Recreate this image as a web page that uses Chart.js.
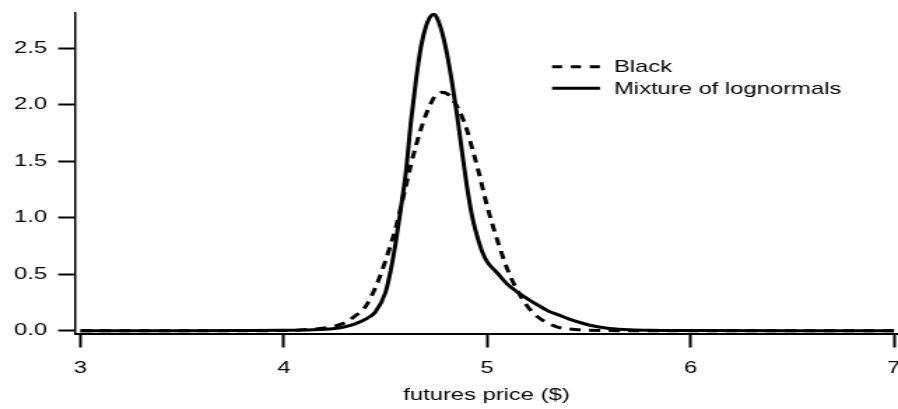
<!DOCTYPE html>
<html><head><meta charset="utf-8">
<script src="https://cdn.jsdelivr.net/npm/chart.js@4.4.1/dist/chart.umd.min.js"></script>
<style>html,body{margin:0;padding:0;background:#fff;overflow:hidden}canvas{display:block}</style>
</head><body>
<canvas id="c" width="642" height="409" style="width:898px;height:409px"></canvas>
<script>
// ---- data ----
const price = [3.0, 3.5, 3.8, 4.0, 4.1, 4.2, 4.25, 4.3, 4.35, 4.4, 4.45, 4.5, 4.525, 4.55, 4.575, 4.6, 4.625, 4.65, 4.675, 4.7, 4.725, 4.74, 4.75, 4.775, 4.8, 4.825, 4.85, 4.875, 4.9, 4.925, 4.95, 4.975, 5.0, 5.05, 5.1, 5.15, 5.2, 5.25, 5.3, 5.35, 5.4, 5.45, 5.5, 5.55, 5.6, 5.7, 5.8, 6.0, 6.5, 7.0];
const mixtureDensity = [0, 0, 0.001, 0.003, 0.006, 0.012, 0.02, 0.035, 0.06, 0.10, 0.165, 0.34, 0.53, 0.78, 1.08, 1.40, 1.85, 2.22, 2.52, 2.70, 2.79, 2.80, 2.78, 2.66, 2.47, 2.22, 1.93, 1.60, 1.28, 1.02, 0.84, 0.70, 0.61, 0.51, 0.41, 0.34, 0.28, 0.225, 0.175, 0.14, 0.105, 0.075, 0.05, 0.032, 0.02, 0.008, 0.003, 0.001, 0, 0];
const blackDensity = [0, 0, 0, 0.002, 0.008, 0.025, 0.04, 0.07, 0.13, 0.21, 0.38, 0.62, 0.76, 0.91, 1.09, 1.28, 1.47, 1.64, 1.79, 1.92, 2.02, 2.07, 2.09, 2.11, 2.10, 2.06, 1.99, 1.90, 1.78, 1.62, 1.46, 1.28, 1.10, 0.80, 0.54, 0.35, 0.21, 0.12, 0.065, 0.03, 0.015, 0.008, 0.004, 0.002, 0.001, 0, 0, 0, 0, 0];
const xTickValues = [3, 4, 5, 6, 7];
const yTickValues = [0, 0.5, 1.0, 1.5, 2.0, 2.5];
const seriesLabels = ['Black', 'Mixture of lognormals'];
const xTitle = 'futures price ($)';

// ---- rendering ----
const S = 898 / 642; // horizontal stretch of the canvas on the page
const FONT = "'Liberation Sans', Arial, Helvetica, sans-serif";

const inlineLegend = {
  id: 'inlineLegend',
  afterDraw(chart) {
    const ctx = chart.ctx;
    const rows = [{ lineY: 66.7, textY: 71.7 }, { lineY: 88.3, textY: 94.3 }];
    chart.data.datasets.forEach((ds, i) => {
      const r = rows[i];
      ctx.save();
      ctx.strokeStyle = ds.borderColor;
      ctx.lineWidth = 3;
      ctx.lineCap = 'butt';
      ctx.setLineDash(ds.borderDash && ds.borderDash.length ? [7.2, 6.3] : []);
      ctx.beginPath();
      ctx.moveTo(552 / S, r.lineY);
      ctx.lineTo(600 / S, r.lineY);
      ctx.stroke();
      ctx.setLineDash([]);
      ctx.fillStyle = '#000';
      ctx.font = '17px ' + FONT;
      ctx.textAlign = 'left';
      ctx.textBaseline = 'alphabetic';
      ctx.fillText(ds.label, 614 / S, r.textY);
      ctx.restore();
    });
  }
};

new Chart(document.getElementById('c'), {
  type: 'line',
  data: {
    datasets: [
      {
        label: seriesLabels[0],
        data: price.map((x, i) => ({ x: x, y: blackDensity[i] })),
        borderColor: '#000', borderWidth: 3, borderDash: [8, 6],
        pointRadius: 0, fill: false, cubicInterpolationMode: 'monotone'
      },
      {
        label: seriesLabels[1],
        data: price.map((x, i) => ({ x: x, y: mixtureDensity[i] })),
        borderColor: '#000', borderWidth: 3,
        pointRadius: 0, fill: false, cubicInterpolationMode: 'monotone'
      }
    ]
  },
  options: {
    responsive: false,
    devicePixelRatio: 1,
    animation: false,
    layout: { padding: { top: 13, left: 0, right: 0, bottom: 0 } },
    plugins: { legend: { display: false }, tooltip: { enabled: false } },
    scales: {
      x: {
        type: 'linear', position: 'bottom', min: 2.973, max: 7.02,
        afterBuildTicks: s => { s.ticks = xTickValues.map(v => ({ value: v })); },
        afterFit: s => { s.height = 75.5; s.paddingLeft = 0; s.paddingRight = 0; },
        grid: { drawOnChartArea: false, drawTicks: true, tickLength: 14, tickWidth: 2, tickColor: '#000' },
        border: { display: true, color: '#000', width: 2 },
        ticks: { color: '#000', font: { size: 17, family: FONT }, padding: 11, maxRotation: 0, autoSkip: false, callback: v => String(v) },
        title: { display: true, text: xTitle, color: '#000', font: { size: 17, family: FONT }, padding: { top: 0, bottom: 3 } }
      },
      y: {
        type: 'linear', position: 'left', min: -0.025, max: 2.8125,
        afterBuildTicks: s => { s.ticks = yTickValues.map(v => ({ value: v })); },
        afterFit: s => { s.width = 53.6; s.paddingTop = 0; s.paddingBottom = 0; },
        grid: { drawOnChartArea: false, drawTicks: true, tickLength: 12, tickWidth: 2, tickColor: '#000' },
        border: { display: true, color: '#000', width: 1.5 },
        ticks: { color: '#000', font: { size: 17, family: FONT }, padding: 8, callback: v => Number(v).toFixed(1) }
      }
    }
  },
  plugins: [inlineLegend]
});
</script>
</body></html>
